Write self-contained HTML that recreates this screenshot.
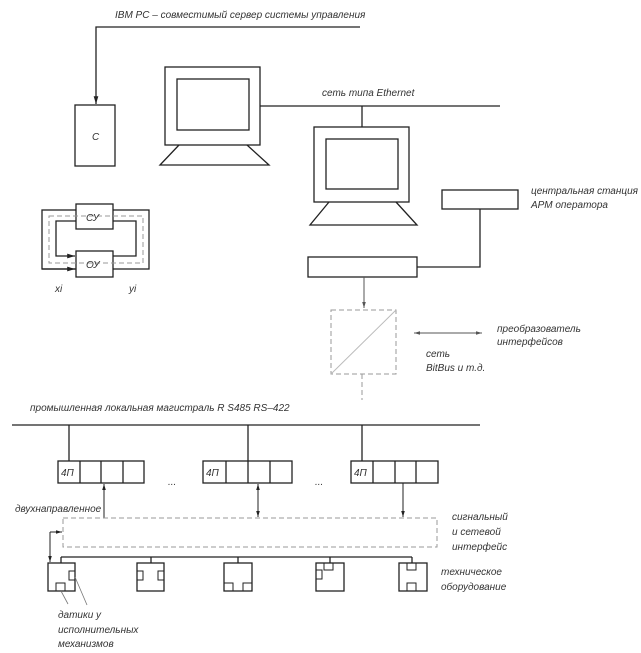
<!DOCTYPE html>
<html><head><meta charset="utf-8"><style>
html,body{margin:0;padding:0;background:#fff;}
svg{display:block;}
text{font-family:"Liberation Sans Narrow","Liberation Sans",sans-serif;font-style:italic;font-size:10px;fill:#333;}
</style></head><body>
<svg width="641" height="653" viewBox="0 0 641 653" xmlns="http://www.w3.org/2000/svg">
<defs>
<marker id="a" viewBox="0 0 10 10" refX="10" refY="5" markerWidth="6" markerHeight="6" orient="auto-start-reverse"><path d="M0,2 L10,5 L0,8 z" fill="#222"/></marker>
<marker id="g" viewBox="0 0 10 10" refX="10" refY="5" markerWidth="6" markerHeight="6" orient="auto-start-reverse"><path d="M0,2 L10,5 L0,8 z" fill="#555"/></marker>
</defs>
<g fill="none" stroke="#222" stroke-width="1.3">
<polyline points="360,27 96,27 96,104" marker-end="url(#a)"/>
<rect x="75" y="105" width="40" height="61"/>
<rect x="165" y="67" width="95" height="78"/>
<rect x="177" y="79" width="72" height="51"/>
<polyline points="179,145 160,165 269,165 247,145"/>
<line x1="260" y1="106" x2="500" y2="106"/>
<line x1="362" y1="106" x2="362" y2="127"/>
<rect x="314" y="127" width="95" height="75"/>
<rect x="326" y="139" width="72" height="50"/>
<polyline points="329,202 310,225 417,225 396,202"/>
<rect x="442" y="190" width="76" height="19"/>
<rect x="308" y="257" width="109" height="20"/>
<polyline points="417,267 480,267 480,209"/>
<rect x="42" y="210" width="107" height="59"/>
<rect x="76" y="204" width="37" height="25" fill="#fff"/>
<rect x="76" y="251" width="37" height="26" fill="#fff"/>
<polyline points="76,221 56,221 56,256 75,256" marker-end="url(#a)"/>
<polyline points="113,256 136,256 136,221 113,221"/>
<line x1="42" y1="269" x2="75" y2="269" marker-end="url(#a)"/>
<line x1="12" y1="425" x2="480" y2="425"/>
<line x1="69" y1="425" x2="69" y2="461"/>
<line x1="248" y1="425" x2="248" y2="461"/>
<line x1="362" y1="425" x2="362" y2="461"/>
<rect x="58" y="461" width="86" height="22"/>
<line x1="80" y1="461" x2="80" y2="483"/><line x1="101" y1="461" x2="101" y2="483"/><line x1="123" y1="461" x2="123" y2="483"/>
<rect x="203" y="461" width="89" height="22"/>
<line x1="226" y1="461" x2="226" y2="483"/><line x1="248" y1="461" x2="248" y2="483"/><line x1="270" y1="461" x2="270" y2="483"/>
<rect x="351" y="461" width="87" height="22"/>
<line x1="373" y1="461" x2="373" y2="483"/><line x1="395" y1="461" x2="395" y2="483"/><line x1="416" y1="461" x2="416" y2="483"/>
<line x1="104" y1="518" x2="104" y2="484" stroke-width="1" marker-end="url(#a)"/>
<line x1="258" y1="517" x2="258" y2="484" stroke-width="1" marker-end="url(#a)" marker-start="url(#a)"/>
<line x1="403" y1="483" x2="403" y2="517" stroke-width="1" marker-end="url(#a)"/>
<line x1="50" y1="532" x2="62" y2="532" stroke-width="1" marker-end="url(#a)"/>
<line x1="50" y1="532" x2="50" y2="562" stroke-width="1" marker-end="url(#a)"/>
<line x1="61" y1="557" x2="412" y2="557"/>
<line x1="61" y1="557" x2="61" y2="563"/><line x1="151" y1="557" x2="151" y2="563"/><line x1="238" y1="557" x2="238" y2="563"/><line x1="330" y1="557" x2="330" y2="563"/><line x1="412" y1="557" x2="412" y2="563"/>
<rect x="48" y="563" width="27" height="28"/>
<rect x="137" y="563" width="27" height="28"/>
<rect x="224" y="563" width="28" height="28"/>
<rect x="316" y="563" width="28" height="28"/>
<rect x="399" y="563" width="28" height="28"/>
<g stroke-width="1">
<rect x="69" y="571" width="6" height="9"/><rect x="56" y="583" width="9" height="8"/>
<rect x="137" y="571" width="6" height="9"/><rect x="158" y="571" width="6" height="9"/>
<rect x="224" y="583" width="9" height="8"/><rect x="243" y="583" width="9" height="8"/>
<rect x="324" y="563" width="9" height="7"/><rect x="316" y="570" width="6" height="9"/>
<rect x="407" y="563" width="9" height="7"/><rect x="407" y="583" width="9" height="8"/>
</g>
<line x1="61" y1="591" x2="68" y2="604" stroke="#777" stroke-width="0.8"/>
<line x1="75" y1="577" x2="87" y2="605" stroke="#777" stroke-width="0.8"/>
</g>
<g fill="none" stroke="#999" stroke-width="1" stroke-dasharray="5,3">
<rect x="49" y="216" width="94" height="47"/>
<rect x="331" y="310" width="65" height="64"/>
<line x1="331" y1="374" x2="396" y2="310" stroke="#bbb" stroke-dasharray="none"/>
<line x1="362" y1="374" x2="362" y2="400"/>
<rect x="63" y="518" width="374" height="29"/>
</g>
<line x1="364" y1="277" x2="364" y2="308" stroke="#555" stroke-width="1" marker-end="url(#g)"/>
<line x1="414" y1="333" x2="482" y2="333" stroke="#555" stroke-width="1" marker-end="url(#g)" marker-start="url(#g)"/>
<text x="115" y="18">IBM PC – совместимый сервер системы управления</text>
<text x="92" y="140">С</text>
<text x="86" y="221">СУ</text>
<text x="86" y="268">ОУ</text>
<text x="55" y="292">xi</text>
<text x="129" y="292">yi</text>
<text x="322" y="96">сеть типа Ethernet</text>
<text x="531" y="194">центральная станция</text>
<text x="531" y="208">АРМ оператора</text>
<text x="497" y="332">преобразователь</text>
<text x="497" y="345">интерфейсов</text>
<text x="426" y="357">сеть</text>
<text x="426" y="371">BitBus и т.д.</text>
<text x="30" y="411">промышленная локальная магистраль R S485 RS–422</text>
<text x="61" y="476">4П</text><text x="206" y="476">4П</text><text x="354" y="476">4П</text>
<text x="168" y="485">...</text><text x="315" y="485">...</text>
<text x="15" y="512">двухнаправленное</text>
<text x="452" y="520">сигнальный</text>
<text x="452" y="535">и сетевой</text>
<text x="452" y="550">интерфейс</text>
<text x="441" y="575">техническое</text>
<text x="441" y="590">оборудование</text>
<text x="58" y="618">датики у</text>
<text x="58" y="633">исполнительных</text>
<text x="58" y="647">механизмов</text>
</svg>
</body></html>
